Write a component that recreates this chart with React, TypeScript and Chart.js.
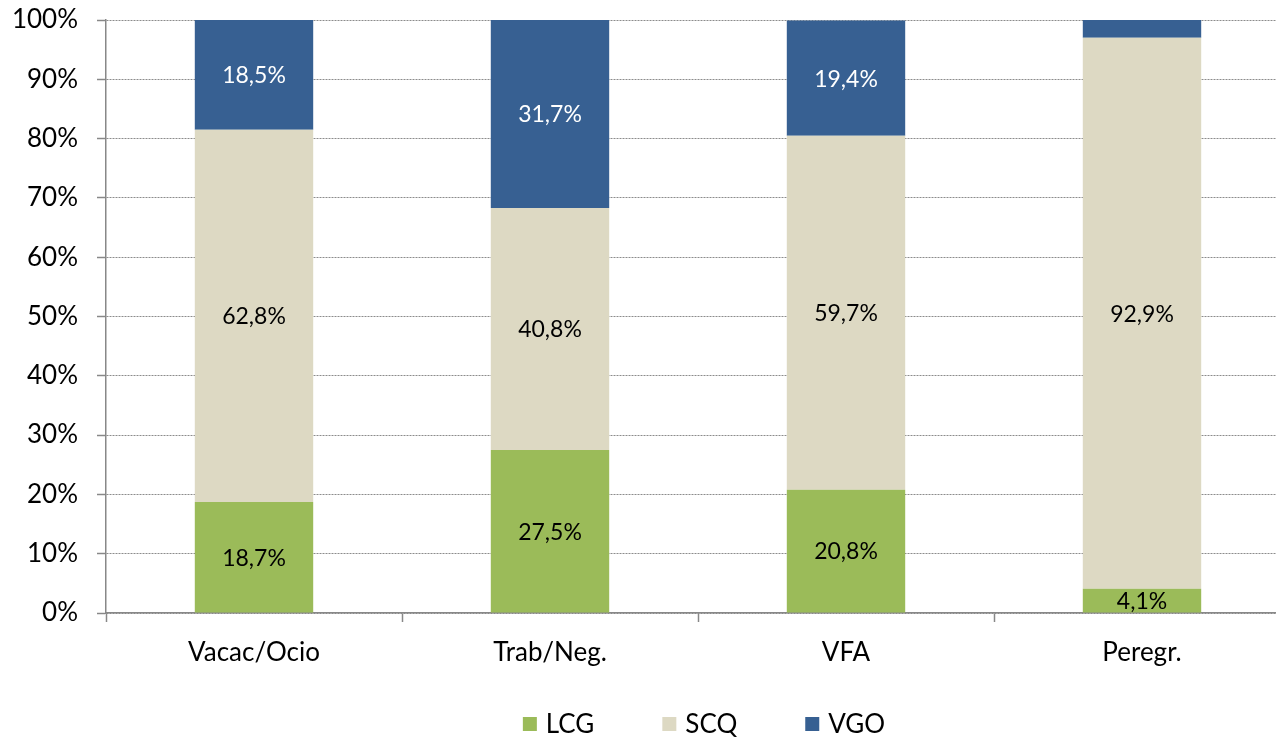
import React, { useEffect, useRef } from "react";
import { Chart, registerables } from "chart.js";

Chart.register(...registerables);

const categories = ["Vacac/Ocio", "Trab/Neg.", "VFA", "Peregr."];
const seriesNames = ["LCG", "SCQ", "VGO"];
const lcgValues = [18.7, 27.5, 20.8, 4.1];
const scqValues = [62.8, 40.8, 59.7, 92.9];
const vgoValues = [18.5, 31.7, 19.4, 3.0];
const seriesColors = ["#9BBB59", "#DDD9C3", "#376092"];
const labelColors = ["#000000", "#000000", "#FFFFFF"];
const yTicks = [0, 10, 20, 30, 40, 50, 60, 70, 80, 90, 100];
const hiddenLabelBelow = 3.5;

const FONT = "Lato, 'Open Sans', sans-serif";

const dataLabelPlugin = {
  id: "dataLabels",
  afterDatasetsDraw(chart: any) {
    const ctx = chart.ctx;
    ctx.save();
    ctx.font = `23px ${FONT}`;
    ctx.textAlign = "center";
    ctx.textBaseline = "middle";
    chart.data.datasets.forEach((ds: any, di: number) => {
      const meta = chart.getDatasetMeta(di);
      meta.data.forEach((bar: any, i: number) => {
        const v = ds.data[i];
        if (v < hiddenLabelBelow) return;
        const txt = v.toFixed(1).replace(".", ",") + "%";
        ctx.fillStyle = labelColors[di];
        ctx.fillText(txt, bar.x, (bar.y + bar.base) / 2 + 1);
      });
    });
    ctx.restore();
  },
};

const legendPlugin = {
  id: "customLegend",
  afterDraw(chart: any) {
    const ctx = chart.ctx;
    const area = chart.chartArea;
    ctx.save();
    ctx.font = `26px ${FONT}`;
    ctx.textBaseline = "middle";
    ctx.textAlign = "left";
    const box = 14;
    const gap = 9;
    const spacing = 68;
    const items = chart.data.datasets.map((ds: any) => ({
      label: ds.label,
      color: ds.backgroundColor,
      w: box + gap + ctx.measureText(ds.label).width,
    }));
    const total =
      items.reduce((s: number, it: any) => s + it.w, 0) + spacing * (items.length - 1);
    let x = (area.left + area.right) / 2 - total / 2 + 6;
    const cy = 724;
    items.forEach((it: any) => {
      ctx.fillStyle = it.color;
      ctx.fillRect(x, cy - box / 2, box, box);
      ctx.fillStyle = "#000";
      ctx.fillText(it.label, x + box + gap, cy + 1);
      x += it.w + spacing;
    });
    ctx.restore();
  },
};

export default function App() {
  const ref = useRef<HTMLCanvasElement | null>(null);
  useEffect(() => {
    if (!ref.current) return;
    const values = [lcgValues, scqValues, vgoValues];
    const chart = new Chart(ref.current, {
      type: "bar",
      data: {
        labels: categories,
        datasets: seriesNames.map((name, i) => ({
          label: name,
          data: values[i],
          backgroundColor: seriesColors[i],
          borderWidth: 0,
          categoryPercentage: 1,
          barPercentage: 0.4,
        })),
      },
      options: {
        responsive: false,
        animation: false,
        layout: { padding: { top: 20, right: 10, bottom: 60, left: 0 } },
        plugins: {
          legend: { display: false },
          tooltip: { enabled: false },
        },
        scales: {
          x: {
            stacked: true,
            afterFit: (s: any) => {
              s.height = 65;
            },
            grid: {
              offset: true,
              drawOnChartArea: false,
              drawTicks: true,
              tickLength: 9,
              tickColor: "#888888",
              tickWidth: 1.5,
            },
            border: { color: "#888888", width: 1.5 },
            ticks: {
              color: "#000",
              font: { family: FONT, size: 26 },
              padding: 15,
              maxRotation: 0,
            },
          },
          y: {
            stacked: true,
            min: 0,
            max: 100,
            afterFit: (s: any) => {
              s.width = 106;
              s.paddingTop = 0;
              s.paddingBottom = 0;
            },
            afterBuildTicks: (s: any) => {
              s.ticks = yTicks.map((v) => ({ value: v }));
            },
            grid: {
              color: "#8c8c8c",
              lineWidth: 1,
              tickBorderDash: [],
              tickColor: "#888888",
              tickWidth: 1.5,
              tickLength: 9,
            },
            border: { color: "#888888", width: 1.5, dash: [2, 1] },
            ticks: {
              color: "#000",
              font: { family: FONT, size: 26 },
              padding: 19,
              callback: (v: any) => `${v}%`,
            },
          },
        },
      },
      plugins: [dataLabelPlugin, legendPlugin],
    });
    return () => chart.destroy();
  }, []);

  return (
    <div
      style={{
        position: "fixed",
        left: 0,
        top: 0,
        width: 1276,
        height: 738,
        overflow: "hidden",
        background: "#fff",
      }}
    >
      <canvas ref={ref} width={1300} height={738} style={{ display: "block" }} />
    </div>
  );
}
